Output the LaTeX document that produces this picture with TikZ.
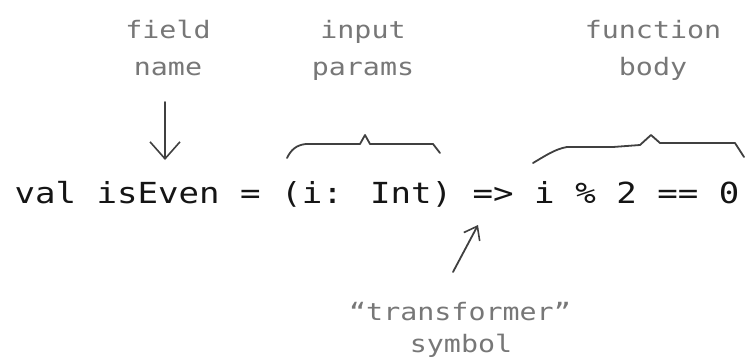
\documentclass[tikz,border=0pt]{standalone}
\usepackage{fontspec}
\usetikzlibrary{arrows.meta}
\newfontfamily\codefont[FakeStretch=1.175]{DejaVu Sans Mono}
\newfontfamily\notefont[FakeStretch=1.18]{DejaVu Sans Mono}
\definecolor{codeink}{HTML}{151515}
\definecolor{noteink}{HTML}{777777}
\definecolor{penink}{HTML}{404040}
\tikzset{
  codetext/.style={anchor=base, inner sep=0pt, text=codeink, font=\codefont\fontsize{29}{34}\selectfont},
  notetext/.style={anchor=base, inner sep=0pt, text=noteink, font=\notefont\fontsize{24}{28}\selectfont},
  pen/.style={draw=penink, line width=1.8pt, line cap=round, line join=round},
  penarrow/.style={pen, -{Straight Barb[length=17pt, width=30pt, line width=1.6pt]}},
  smallarrow/.style={pen, -{Straight Barb[length=12pt, width=18pt, line width=1.6pt]}}
}
\begin{document}
\begin{tikzpicture}[x=1pt, y=-1pt]
\useasboundingbox (0,0) rectangle (747,361);
\fill[white] (0,0) rectangle (747,361);

% code line
\node[codetext] (code) at (377,203) {val isEven = (i: Int) => i \% 2 == 0};

% labels
\node[notetext] (fieldA) at (168,39) {field};
\node[notetext] (fieldB) at (168,75) {name};
\node[notetext] (inputA) at (363,39) {input};
\node[notetext] (inputB) at (363,75) {params};
\node[notetext] (funcA) at (653,39) {function};
\node[notetext] (funcB) at (653,75) {body};
\node[notetext] (transA) at (460,320) {\char"201C transformer\char"201D};
\node[notetext] (transB) at (461,352) {symbol};

% arrows
\coordinate (fieldtail) at (165,102);
\coordinate (fieldtip) at (165,160);
\draw[penarrow] (fieldtail) -- (fieldtip);
\coordinate (transtail) at (453,272);
\coordinate (transtip) at (478,225);
\draw[smallarrow] (transtail) -- (transtip);

% braces
\draw[pen] (287,158) .. controls (291,150) and (296,145) .. (306,144)
  -- (360,144) -- (365,135) -- (370,144) -- (433,144) -- (440,153);
\draw[pen] (533,163) .. controls (545,156) and (555,149) .. (567,147)
  -- (613,147) -- (640,145) -- (651,135) -- (660,143) -- (735,143) -- (744,157);
\end{tikzpicture}
\end{document}
